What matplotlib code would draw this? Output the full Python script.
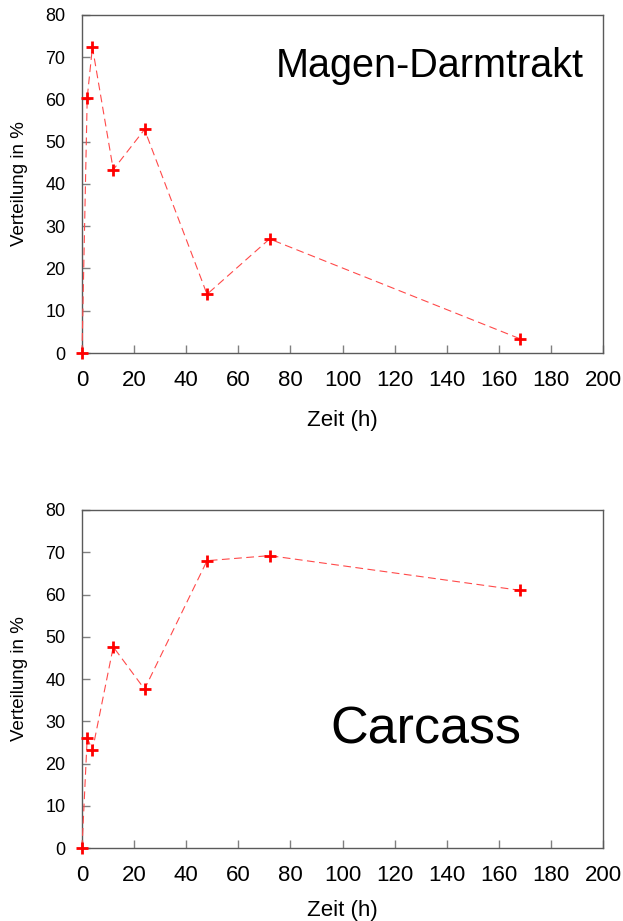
import matplotlib
matplotlib.use("Agg")
import matplotlib.pyplot as plt

plt.rcParams['font.family'] = ['Liberation Sans', 'DejaVu Sans']

# Sampling times (h)
time_h = [0, 2, 4, 12, 24, 48, 72, 168]
# Distribution (%) in the gastrointestinal tract and in the carcass
magen_darm = [0, 60.4, 72.4, 43.4, 52.9, 13.9, 27.0, 3.4]
carcass = [0, 26.1, 23.1, 47.6, 37.6, 68.0, 69.2, 61.0]

panel_titles = ["Magen-Darmtrakt", "Carcass"]
x_ticks = [0, 20, 40, 60, 80, 100, 120, 140, 160, 180, 200]
y_ticks = [0, 10, 20, 30, 40, 50, 60, 70, 80]

fig = plt.figure(figsize=(6.23, 9.21), dpi=100)
W, H = 623, 921

def add_axes_px(left, top, right, bottom):
    return fig.add_axes([left / W, 1 - bottom / H, (right - left) / W, (bottom - top) / H])

ax_top = add_axes_px(82, 15, 603, 353)
ax_bot = add_axes_px(82, 510, 603, 848)

spine_col = "#5a5a5a"
for ax, values, title, tsize, tx, ty, xpad in [
    (ax_top, magen_darm, panel_titles[0], 28.5, 0.668, 0.85, 14),
    (ax_bot, carcass, panel_titles[1], 37.5, 0.66, 0.35, 10),
]:
    ax.plot(time_h, values, color="#ff4a4a", lw=0.8, ls=(0, (7, 4)),
            marker="+", ms=8.5, mew=2, mec="#ff0000", clip_on=False, zorder=3)
    ax.set_xlim(0, 200)
    ax.set_ylim(0, 80)
    ax.set_xticks(x_ticks)
    ax.set_yticks(y_ticks)
    ax.tick_params(axis="x", direction="in", length=6, width=1, color="#808080",
                   labelsize=16, pad=12, labelcolor="black")
    ax.tick_params(axis="y", direction="in", length=6, width=1, color="#808080",
                   labelsize=13, pad=12, labelcolor="black")
    for s in ax.spines.values():
        s.set_color(spine_col)
        s.set_linewidth(1.0)
    ax.set_xlabel("Zeit (h)", fontsize=16, labelpad=xpad)
    ax.set_ylabel("Verteilung in %", fontsize=13.5, labelpad=12)
    ax.text(tx, ty, title, transform=ax.transAxes, fontsize=tsize,
            ha="center", va="center", color="black")

fig.savefig("out.png", dpi=100, facecolor="white")
